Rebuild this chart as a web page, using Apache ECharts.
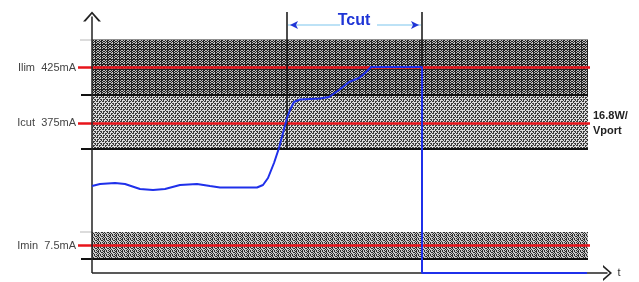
<!DOCTYPE html>
<html><head><meta charset="utf-8">
<script src="https://cdn.jsdelivr.net/npm/echarts@6/dist/echarts.min.js"></script>
<style>html,body{margin:0;padding:0;background:#fff}#c{width:639px;height:282px}</style>
</head><body><div id="c"></div>
<script>
// time axis (t) and schematic current level
const curveT = [0,8,23,33,48,61,73,88,105,118,128,165,171,176,182,187,191,195,198,202,208,218,228,237,247,257,267,273,279,330,330,495];
const curveI = [87,89,90,89,84,83,84,88,89,87,85.5,85.5,88,95,110,125,140,155,163,171,173.5,174,174.5,176,183,191,195,200,206,206,0,0];

const levelNames  = ['Ilim  425mA','Icut  375mA','Imin  7.5mA'];
const levelValues = [205.5,150,27.5];
const dividerValues = [178,124,14];
const bandEdgeValues = [233.5,41];
const bandRanges = [[178,233.5],[124,178],[14,41]];
const icutNote = '16.8W/\nVport';
const tcutLabel = 'Tcut';
const tcutStart = 195, tcutEnd = 330, tcutLevel = 248;
const markerTops = [261,261];
const markerBottoms = [124,83];
const bandEnd = 496;
const tAxisEnd = 515.5, iAxisEnd = 256.5;
const tAxisName = 't';

// halftone-like textures (style only)
function texture(rows, dark, light){
  const c = document.createElement('canvas');
  c.width = rows[0].length; c.height = rows.length;
  const g = c.getContext('2d');
  rows.forEach((r,y)=>{ for(let x=0;x<r.length;x++){ g.fillStyle = r[x]==='#' ? dark : light; g.fillRect(x,y,1,1);} });
  return {image:c, repeat:'repeat'};
}
const texUpper = texture([
  '#..#.#',
  '.##.##',
  '#..#.#',
  '.##..#',
  '######'
], '#222222', '#c0c0c0');
const texMid = texture([
  '.#...#',
  '##.##.',
  '...#..',
  '.##.##',
], '#3a3a3a', '#dcdcdc');
const texLow = texture([
  '#.#..#',
  '.#.#..',
  '#.#.#.',
  '.##.#.',
], '#2e2e2e', '#cacaca');
const bandStyles = [{color:texUpper},{color:texMid},{color:texLow}];

const chevron = 'path://M0,10 L5,0 L10,10 L8.6,10 L5,2.6 L1.4,10 Z';
const chart = echarts.init(document.getElementById('c'), null, {renderer:'canvas'});
const clear = 'rgba(0,0,0,0)';

const hLines = [];
levelValues.forEach((v,i)=>{
  hLines.push([
    {coord:[-14,v], lineStyle:{color:'#e8141b', width:2.5, type:'solid'},
     label:{show:true, position:'start', formatter:levelNames[i], distance:2, color:'#444', fontSize:11, fontFamily:'Liberation Sans'}},
    {coord:[bandEnd+2,v]}
  ]);
});
hLines.push([
  {coord:[bandEnd,levelValues[1]], lineStyle:{color:clear, width:1, type:'solid'},
   label:{show:true, position:'end', formatter:icutNote, distance:4, color:'#222', fontSize:11, fontWeight:'bold', lineHeight:15, align:'left', fontFamily:'Liberation Sans'}},
  {coord:[bandEnd+1,levelValues[1]]}
]);
const blackLines = dividerValues.map(v=>[
  {coord:[-11,v], lineStyle:{color:'#111', width:2, type:'solid'}},
  {coord:[bandEnd,v]}
]);
const greyLines = bandEdgeValues.map(v=>[
  {coord:[-12,v], lineStyle:{color:'#d0d0d0', width:1.5, type:'solid'}},
  {coord:[0,v]}
]);
const vLines = [tcutStart,tcutEnd].map((t,i)=>[
  {coord:[t,markerTops[i]], lineStyle:{color:'#111', width:1.5, type:'solid'}},
  {coord:[t,markerBottoms[i]]}
]);
const axes = [
  [{coord:[0,0], symbol:'none', lineStyle:{color:'#222', width:1.5, type:'solid'}}, {coord:[0,iAxisEnd], symbol:chevron, symbolSize:[18,10]}],
  [{coord:[0,0], symbol:'none', lineStyle:{color:'#222', width:1.5, type:'solid'},
    label:{show:true, position:'end', formatter:tAxisName, distance:10, color:'#333', fontSize:11}},
   {coord:[tAxisEnd,0], symbol:chevron, symbolSize:[16,9]}]
];
const gapA = tcutStart + 53, gapB = tcutStart + 90;
const tcut = [
  [{coord:[tcutStart+1,tcutLevel], lineStyle:{color:'#a7d8f3', width:1.5, type:'solid'}}, {coord:[gapA,tcutLevel]}],
  [{coord:[gapB,tcutLevel], lineStyle:{color:'#a7d8f3', width:1.5, type:'solid'}}, {coord:[tcutEnd-1,tcutLevel]}],
  [{coord:[tcutStart+8,tcutLevel], symbol:'none', lineStyle:{color:'#1f35d6', width:0.1, type:'solid'}}, {coord:[tcutStart+3,tcutLevel], symbol:'arrow', symbolSize:[6,8]}],
  [{coord:[tcutEnd-8,tcutLevel], symbol:'none', lineStyle:{color:'#1f35d6', width:0.1, type:'solid'}}, {coord:[tcutEnd-3,tcutLevel], symbol:'arrow', symbolSize:[6,8]}],
  [{coord:[gapA-2,tcutLevel-4], lineStyle:{color:clear, width:1, type:'solid'},
    label:{show:true, position:'middle', formatter:tcutLabel, distance:0, color:'#1f35d6', fontSize:16, fontWeight:'bold', fontFamily:'Liberation Sans'}},
   {coord:[gapB-7,tcutLevel-4]}]
];

chart.setOption({
  animation:false,
  grid:{left:78, right:19, top:5, bottom:9},
  xAxis:{type:'value', min:-14, max:528, show:false},
  yAxis:{type:'value', min:0, max:268, show:false},
  series:[
    {type:'line', data:[], z:1, silent:true,
     markArea:{silent:true, z:1, data: bandRanges.map((r,i)=>[
       {coord:[0,r[0]], itemStyle:bandStyles[i]}, {coord:[bandEnd,r[1]]}
     ])}},
    {type:'line', data:[], z:2, silent:true,
     markLine:{silent:true, z:2, symbol:'none', animation:false, label:{show:false}, lineStyle:{type:'solid'},
       data:[...greyLines, ...blackLines, ...hLines, ...vLines, ...axes, ...tcut]}},
    {type:'line', z:10, silent:true, showSymbol:false, symbol:'none',
     lineStyle:{color:'#1f30ea', width:2},
     data: curveT.map((t,i)=>[t,curveI[i]])}
  ]
});
</script></body></html>
